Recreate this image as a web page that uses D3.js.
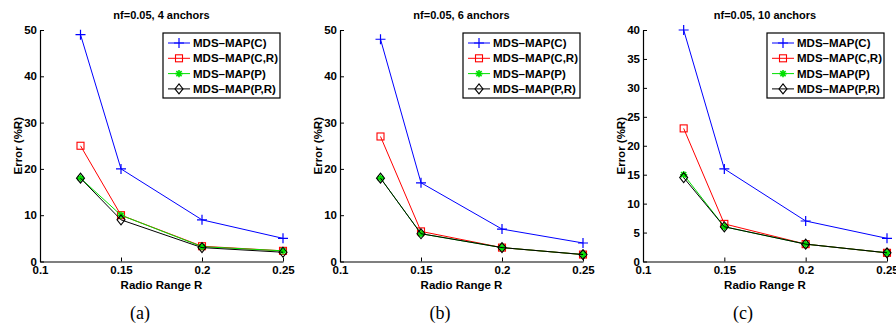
<!doctype html>
<html>
<head>
<meta charset="utf-8">
<title>MDS-MAP error vs radio range</title>
<script src="https://d3js.org/d3.v7.min.js"></script>
<style type="text/css">
	body { margin: 0; background: #fff; }
	text { font-family: "Liberation Sans", Arial, sans-serif; font-weight: bold; }
	.tick text { font-size: 11.5px; }
	.title { font-size: 11px; }
	.axisLabel { font-size: 11.5px; }
	.legendText { font-size: 11.5px; }
	.caption { font-family: "Liberation Serif", "DejaVu Serif", serif; font-weight: normal; font-size: 18px; }
</style>
</head>
<body>
<script>
	var w = 896;
	var h = 326;

	// radio range values where errors were measured
	var radioRange = [0.125, 0.15, 0.2, 0.25];
	var seriesNames = ["MDS\u2013MAP(C)", "MDS\u2013MAP(C,R)", "MDS\u2013MAP(P)", "MDS\u2013MAP(P,R)"];
	var seriesColors = ["#0000ff", "#ff0000", "#00e000", "#000000"];
	var seriesMarkers = ["plus", "square", "star", "diamond"];

	var xTicks = [0.1, 0.15, 0.2, 0.25];
	var yTicks50 = [0, 10, 20, 30, 40, 50];
	var yTicks40 = [0, 5, 10, 15, 20, 25, 30, 35, 40];

	var titles = ["nf=0.05, 4 anchors", "nf=0.05, 6 anchors", "nf=0.05, 10 anchors"];
	var captions = ["(a)", "(b)", "(c)"];

	// error (%R) per series, one array per panel: C, C+R, P, P+R
	var err4anchors = [
		[49, 20, 9, 5],
		[25, 10, 3.3, 2.3],
		[18, 10, 3.2, 2.3],
		[18, 9, 3, 2]
	];
	var err6anchors = [
		[48, 17, 7, 4],
		[27, 6.5, 3, 1.5],
		[18, 6, 3, 1.5],
		[18, 6, 3, 1.5]
	];
	var err10anchors = [
		[40, 16, 7, 4],
		[23, 6.5, 3, 1.5],
		[15, 6, 3, 1.5],
		[14.5, 6, 3, 1.5]
	];

	var svg = d3.select("body")
				.append("svg")
				.attr("width", w)
				.attr("height", h);

	var panels = [
		{ left: 40,  right: 283, yMax: 50, yTicks: yTicks50, data: err4anchors },
		{ left: 340, right: 583, yMax: 50, yTicks: yTicks50, data: err6anchors },
		{ left: 643, right: 887, yMax: 40, yTicks: yTicks40, data: err10anchors }
	];
	var plotTop = 30, plotBottom = 261.5;

	function drawMarker(g, type, x, y, color) {
		if (type == "plus") {
			g.append("path")
				.attr("d", "M" + (x - 5) + "," + y + "H" + (x + 5) + "M" + x + "," + (y - 5) + "V" + (y + 5))
				.attr("stroke", color).attr("stroke-width", 1.2).attr("fill", "none");
		} else if (type == "square") {
			g.append("rect")
				.attr("x", x - 3.5).attr("y", y - 3.5)
				.attr("width", 7).attr("height", 7)
				.attr("stroke", color).attr("stroke-width", 1.1).attr("fill", "none");
		} else if (type == "star") {
			var s = 3.6, d = 2.6;
			g.append("path")
				.attr("d", "M" + (x - s) + "," + y + "H" + (x + s) +
					"M" + x + "," + (y - s) + "V" + (y + s) +
					"M" + (x - d) + "," + (y - d) + "L" + (x + d) + "," + (y + d) +
					"M" + (x - d) + "," + (y + d) + "L" + (x + d) + "," + (y - d))
				.attr("stroke", color).attr("stroke-width", 1.6).attr("fill", "none");
		} else if (type == "diamond") {
			g.append("path")
				.attr("d", "M" + x + "," + (y - 5) + "L" + (x + 4) + "," + y + "L" + x + "," + (y + 5) + "L" + (x - 4) + "," + y + "Z")
				.attr("stroke", color).attr("stroke-width", 1.1).attr("fill", "none");
		}
	}

	panels.forEach(function(p, k) {
		var xScale = d3.scaleLinear().domain([0.1, 0.25]).range([p.left, p.right]);
		var yScale = d3.scaleLinear().domain([0, p.yMax]).range([plotBottom, plotTop]);

		var g = svg.append("g");

		var line = d3.line()
			.x(function(d, i) { return xScale(radioRange[i]); })
			.y(function(d) { return yScale(d); });

		p.data.forEach(function(vals, s) {
			g.append("path")
				.attr("d", line(vals))
				.attr("fill", "none")
				.attr("stroke", seriesColors[s])
				.attr("stroke-width", 1);
			vals.forEach(function(v, i) {
				drawMarker(g, seriesMarkers[s], xScale(radioRange[i]), yScale(v), seriesColors[s]);
			});
		});

		var xAxis = d3.axisBottom(xScale)
			.tickValues(xTicks)
			.tickFormat(function(d) { return String(d); })
			.tickSizeInner(-4).tickSizeOuter(0).tickPadding(4);
		var yAxis = d3.axisLeft(yScale)
			.tickValues(p.yTicks)
			.tickFormat(function(d) { return String(d); })
			.tickSizeInner(-4).tickSizeOuter(0).tickPadding(3);

		var gx = g.append("g")
			.attr("transform", "translate(0," + plotBottom + ")")
			.call(xAxis);
		var gy = g.append("g")
			.attr("transform", "translate(" + p.left + ",0)")
			.call(yAxis);
		[gx, gy].forEach(function(a) {
			a.attr("font-family", null).attr("font-size", null);
			a.select(".domain").attr("stroke", "#000").attr("stroke-width", 1.2);
			a.selectAll(".tick line").attr("stroke", "#000");
			a.selectAll(".tick text").attr("fill", "#000");
		});

		var cx = (p.left + p.right) / 2;
		g.append("text")
			.attr("class", "title")
			.attr("x", cx).attr("y", 19)
			.attr("text-anchor", "middle")
			.text(titles[k]);

		g.append("text")
			.attr("class", "axisLabel")
			.attr("x", cx).attr("y", 289)
			.attr("text-anchor", "middle")
			.text("Radio Range R");

		g.append("text")
			.attr("class", "axisLabel")
			.attr("transform", "translate(" + (p.left - 18) + "," + ((plotTop + plotBottom) / 2) + ") rotate(-90)")
			.attr("text-anchor", "middle")
			.text("Error (%R)");

		g.append("text")
			.attr("class", "caption")
			.attr("x", p.left + 100).attr("y", 319)
			.attr("text-anchor", "middle")
			.text(captions[k]);

		// legend
		var lx = p.right - 120, ly = 33;
		var leg = g.append("g");
		leg.append("rect")
			.attr("x", lx).attr("y", ly)
			.attr("width", 117).attr("height", 65)
			.attr("fill", "#fff").attr("stroke", "#000").attr("stroke-width", 1.2);
		seriesNames.forEach(function(name, s) {
			var yy = ly + 10 + s * 15.3;
			leg.append("line")
				.attr("x1", lx + 5).attr("x2", lx + 27)
				.attr("y1", yy).attr("y2", yy)
				.attr("stroke", seriesColors[s]).attr("stroke-width", 1);
			drawMarker(leg, seriesMarkers[s], lx + 16, yy, seriesColors[s]);
			leg.append("text")
				.attr("class", "legendText")
				.attr("x", lx + 30).attr("y", yy + 4)
				.text(name);
		});
	});
</script>
</body>
</html>
